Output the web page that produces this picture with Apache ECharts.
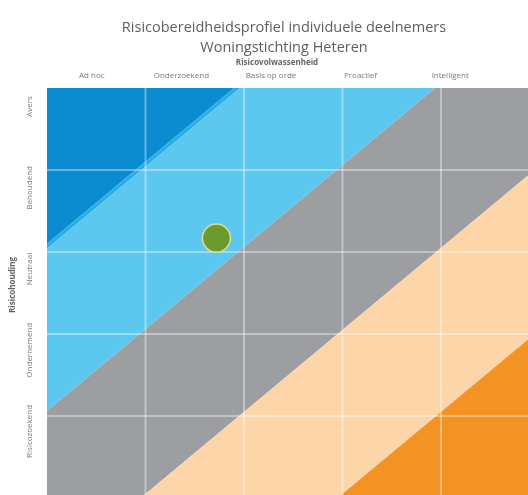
<!DOCTYPE html>
<html>
<head>
<meta charset="utf-8">
<script src="https://cdn.jsdelivr.net/npm/echarts@6/dist/echarts.min.js"></script>
<style>html,body{margin:0;padding:0;background:#fff;}#c{width:528px;height:495px;}</style>
</head>
<body>
<div id="c"></div>
<script>
// ---- data ----
const titleLines = ['Risicobereidheidsprofiel individuele deelnemers', 'Woningstichting Heteren'];
const xName = 'Risicovolwassenheid';
const yName = 'Risicohouding';
const xLabels = ['Ad hoc', 'Onderzoekend', 'Basis op orde', 'Proactief', 'Intelligent'];
const yLabels = ['Avers', 'Behoudend', 'Neutraal', 'Ondernemend', 'Risicozoekend'];
// zone thresholds on (column + row) measured in cells from top-left
const bandEdges = [0, 1.90, 1.96, 3.94, 5.95, 7.95, 10];
const bandColors = ['#0b8bd0', '#2aaee8', '#5cc8ef', '#9d9ea1', '#fcd6a9', '#f39323'];
const cellLines = [1, 2, 3, 4];
const participant = [[1.72, 1.83]];

const square = [[0,0],[5,0],[5,5],[0,5]];
function clip(poly, f) {
  const out = [];
  for (let i = 0; i < poly.length; i++) {
    const a = poly[i], b = poly[(i + 1) % poly.length];
    const fa = f(a), fb = f(b);
    if (fa >= 0) out.push(a);
    if ((fa >= 0) !== (fb >= 0)) {
      const t = fa / (fa - fb);
      out.push([a[0] + t * (b[0] - a[0]), a[1] + t * (b[1] - a[1])]);
    }
  }
  return out;
}

const chart = echarts.init(document.getElementById('c'), null, {renderer: 'canvas'});
const font = 'Open Sans';
const option = {
  animation: false,
  textStyle: {fontFamily: font},
  title: {
    text: titleLines.join('\n'),
    left: 279, top: 13, textAlign: 'center',
    textStyle: {fontSize: 14.5, fontWeight: 'normal', color: '#5e5e5e', lineHeight: 20, fontFamily: font}
  },
  grid: [
    {left: 47, top: 88, width: 492.5, height: 410, outerBoundsMode: 'none'},
    {left: 47, top: 88, width: 448, height: 410, outerBoundsMode: 'none'},
    {left: 47, top: 66, width: 492, height: 406, outerBoundsMode: 'none'}
  ],
  xAxis: [
    {type: 'value', gridIndex: 0, min: 0, max: 5, interval: 1, show: false},
    {type: 'category', gridIndex: 1, position: 'top', data: xLabels,
     axisLine: {show: false}, axisTick: {show: false}, splitLine: {show: false},
     axisLabel: {margin: 8, fontSize: 8, color: '#7a7a7a', fontFamily: font},
     name: xName, nameLocation: 'middle', nameGap: 21,
     nameTextStyle: {fontSize: 8, fontWeight: 'bold', color: '#666', padding: [0, 0, 0, 12], fontFamily: font}},
    {type: 'value', gridIndex: 2, min: 0, max: 1, show: false}
  ],
  yAxis: [
    {type: 'value', gridIndex: 0, min: 0, max: 5, interval: 1, inverse: true, show: false},
    {type: 'value', gridIndex: 1, min: 0, max: 1, show: false},
    {type: 'category', gridIndex: 2, inverse: true, data: yLabels,
     axisLine: {show: false}, axisTick: {show: false}, splitLine: {show: false},
     axisLabel: {rotate: 90, margin: 13, fontSize: 8, color: '#7a7a7a', fontFamily: font},
     name: yName, nameLocation: 'middle', nameGap: 30, nameRotate: 90,
     nameTextStyle: {fontSize: 8, fontWeight: 'bold', color: '#666', padding: [0, 32, 0, 0], fontFamily: font}}
  ],
  series: [
    {
      type: 'custom', name: 'zones', coordinateSystem: 'cartesian2d', xAxisIndex: 0, yAxisIndex: 0,
      data: bandColors.map((_, i) => [i, 0]),
      renderItem: function (params, api) {
        const i = api.value(0);
        const lo = bandEdges[i], hi = bandEdges[i + 1];
        let poly = clip(square, p => p[0] + p[1] - lo);
        poly = clip(poly, p => hi - p[0] - p[1]);
        if (poly.length < 3) return null;
        return {type: 'polygon', shape: {points: poly.map(p => api.coord(p))}, style: {fill: bandColors[i]}};
      },
      z: 1
    },
    {
      type: 'custom', name: 'cells', coordinateSystem: 'cartesian2d', xAxisIndex: 0, yAxisIndex: 0,
      data: cellLines.map(k => [k, k]),
      renderItem: function (params, api) {
        const k = api.value(0);
        const v0 = api.coord([k, 0]), v1 = api.coord([k, 5]);
        const h0 = api.coord([0, k]), h1 = api.coord([5, k]);
        const st = {stroke: 'rgba(255,255,255,0.38)', lineWidth: 2};
        return {type: 'group', children: [
          {type: 'line', shape: {x1: v0[0], y1: v0[1], x2: v1[0], y2: v1[1]}, style: st},
          {type: 'line', shape: {x1: h0[0], y1: h0[1], x2: h1[0], y2: h1[1]}, style: st}
        ]};
      },
      z: 2
    },
    {
      type: 'scatter', name: 'deelnemer', xAxisIndex: 0, yAxisIndex: 0,
      data: participant, symbolSize: 28,
      itemStyle: {color: '#6b9a30', borderColor: '#dcdc98', borderWidth: 1.5, opacity: 1},
      z: 3
    }
  ]
};
chart.setOption(option);
</script>
</body>
</html>
